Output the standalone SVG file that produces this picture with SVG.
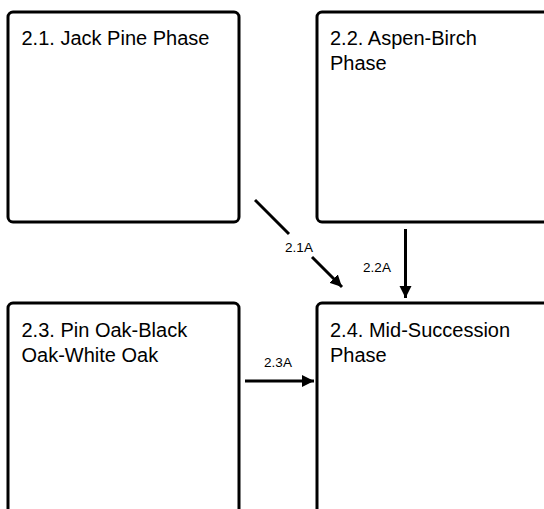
<svg xmlns="http://www.w3.org/2000/svg" width="544" height="509" viewBox="0 0 544 509">
<defs>
<style>
.box{fill:#fff;stroke:#000;stroke-width:3}
.t{font-family:"Liberation Sans",Arial,sans-serif;font-size:20px;fill:#000}
.l{font-family:"Liberation Sans",Arial,sans-serif;font-size:13.5px;fill:#000;text-anchor:middle}
.c{stroke:#000;stroke-width:3;fill:none}
</style>
<marker id="ah" viewBox="0 0 10 10" refX="10" refY="5" markerWidth="4" markerHeight="4.4" markerUnits="strokeWidth" orient="auto">
<path d="M0,0 L10,5 L0,10 z" fill="#000"/>
</marker>
</defs>
<rect width="544" height="509" fill="#fff"/>
<g id="n21">
<rect class="box" x="8" y="12" width="231" height="210" rx="5"/>
<text class="t" x="21.5" y="45">2.1. Jack Pine Phase</text>
</g>
<g id="n22">
<rect class="box" x="317" y="12" width="240" height="210" rx="5"/>
<text class="t" x="330" y="45">2.2. Aspen-Birch</text>
<text class="t" x="330" y="70">Phase</text>
</g>
<g id="n23">
<rect class="box" x="8" y="303" width="231" height="220" rx="5"/>
<text class="t" x="21.5" y="337">2.3. Pin Oak-Black</text>
<text class="t" x="21.5" y="362">Oak-White Oak</text>
</g>
<g id="n24">
<rect class="box" x="317" y="303" width="240" height="220" rx="5"/>
<text class="t" x="330" y="337">2.4. Mid-Succession</text>
<text class="t" x="330" y="362">Phase</text>
</g>
<g id="connectors">
<line class="c" x1="255" y1="200" x2="289" y2="234"/>
<line class="c" x1="312" y1="257" x2="342" y2="287" marker-end="url(#ah)"/>
<text class="l" x="299" y="252">2.1A</text>
<line class="c" x1="405.5" y1="229" x2="405.5" y2="298" marker-end="url(#ah)"/>
<text class="l" x="377" y="272">2.2A</text>
<line class="c" x1="245" y1="381" x2="314" y2="381" marker-end="url(#ah)"/>
<text class="l" x="278" y="367">2.3A</text>
</g>
</svg>
